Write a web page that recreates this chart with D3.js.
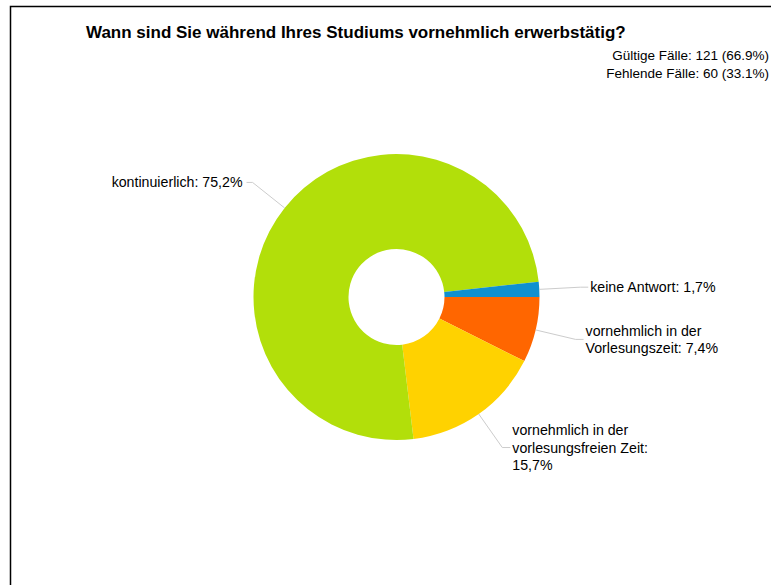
<!DOCTYPE html>
<html>
<head>
<meta charset="utf-8">
<script src="https://cdn.jsdelivr.net/npm/d3@7"></script>
<style>
  body { margin: 0; background: #fff; }
  svg { display: block; font-family: "Liberation Sans", Arial, sans-serif; }
</style>
</head>
<body>
<div id="chart"></div>
<script>
// Data, in clockwise drawing order starting at 3 o'clock
const categories = [
  "vornehmlich in der Vorlesungszeit",
  "vornehmlich in der vorlesungsfreien Zeit",
  "kontinuierlich",
  "keine Antwort"
];
const shares = [7.4, 15.7, 75.2, 1.7];
const labelLines = [
  ["vornehmlich in der", "Vorlesungszeit: 7,4%"],
  ["vornehmlich in der", "vorlesungsfreien Zeit:", "15,7%"],
  ["kontinuierlich: 75,2%"],
  ["keine Antwort: 1,7%"]
];
const colors = ["#ff6600", "#ffd200", "#b2df0a", "#1090d0"];

const titleText = "Wann sind Sie während Ihres Studiums vornehmlich erwerbstätig?";
const caseLines = ["Gültige Fälle: 121 (66.9%)", "Fehlende Fälle: 60 (33.1%)"];

const drawDonut = () => {

  // Dimensions
  const width = 771;
  const height = 585;
  const cx = 396.5;
  const cy = 297;
  const outerR = 143;
  const innerR = 48;
  const elbowR = 184;
  const lineH = 17.5;

  const svg = d3.select("#chart")
    .append("svg")
      .attr("width", width)
      .attr("height", height);

  // Frame (runs off the right and bottom edges)
  svg.append("rect")
      .attr("x", 10.5)
      .attr("y", 6.5)
      .attr("width", 900)
      .attr("height", 900)
      .attr("fill", "none")
      .attr("stroke", "#000")
      .attr("stroke-width", 1.5);

  svg.append("text")
      .attr("x", 86)
      .attr("y", 38)
      .style("font-size", "17px")
      .style("font-weight", "bold")
      .text(titleText);

  svg.selectAll(".cases")
    .data(caseLines)
    .join("text")
      .attr("class", "cases")
      .attr("x", 769)
      .attr("y", (d, i) => 60 + i * 18)
      .attr("text-anchor", "end")
      .style("font-size", "13.5px")
      .text(d => d);

  // Compute the layout
  const pie = d3.pie()
    .sort(null)
    .startAngle(Math.PI / 2)
    .endAngle(Math.PI / 2 + 2 * Math.PI);
  const arcs = pie(shares);

  const arc = d3.arc()
    .innerRadius(innerR)
    .outerRadius(outerR);

  const g = svg.append("g")
      .attr("transform", `translate(${cx}, ${cy})`);

  g.selectAll(".slice")
    .data(arcs)
    .join("path")
      .attr("class", "slice")
      .attr("d", arc)
      .attr("fill", (d, i) => colors[i]);

  // Leader lines
  const polar = (a, r) => [r * Math.sin(a), -r * Math.cos(a)];
  const mid = d => (d.startAngle + d.endAngle) / 2;

  const labels = arcs.map((d, i) => {
    const a = mid(d);
    const p0 = polar(a, outerR);
    const p1 = polar(a, elbowR);
    const right = Math.sin(a) > 0;
    const p2 = [p1[0] + (right ? 8 : -6), p1[1]];
    return { p0, p1, p2, right, lines: labelLines[i] };
  });

  g.selectAll(".leader")
    .data(labels)
    .join("polyline")
      .attr("class", "leader")
      .attr("points", d => [d.p0, d.p1, d.p2].map(p => p.join(",")).join(" "))
      .attr("fill", "none")
      .attr("stroke", "#cccccc")
      .attr("stroke-width", 1);

  const lbl = g.selectAll(".label")
    .data(labels)
    .join("text")
      .attr("class", "label")
      .attr("text-anchor", d => d.right ? "start" : "end")
      .style("font-size", "14.2px")
      .attr("fill", "#000");

  lbl.selectAll("tspan")
    .data(d => d.lines.map((t, j) => ({ t, j, d })))
    .join("tspan")
      .attr("x", o => o.d.p2[0] + (o.d.right ? 2 : -4))
      .attr("y", o => o.d.p2[1] + (o.j - (o.d.lines.length - 1) / 2) * lineH + 5)
      .text(o => o.t);
};

drawDonut();
</script>
</body>
</html>
